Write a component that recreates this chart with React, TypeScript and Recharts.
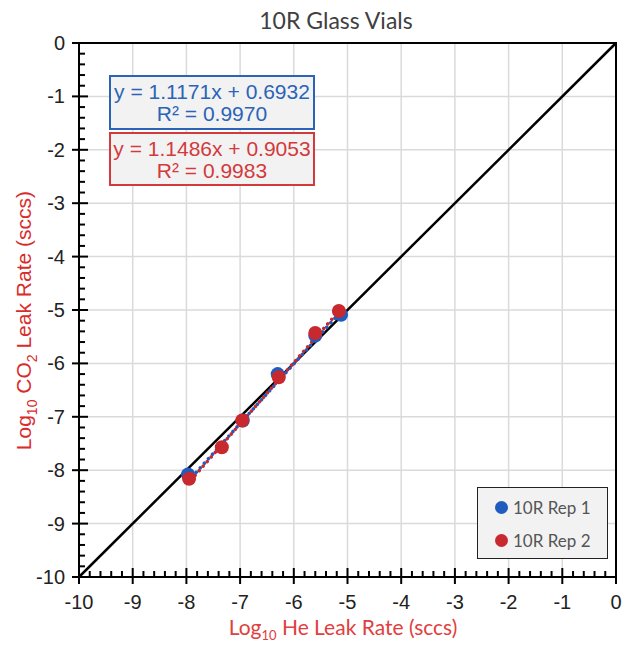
import React from 'react';
import {
  ScatterChart, Scatter, XAxis, YAxis, CartesianGrid, ReferenceLine, ReferenceArea,
} from 'recharts';

document.body.style.margin = '0';

// data (log10 He leak rate vs log10 CO2 leak rate)
const rep1 = [
  { x: -7.97, y: -8.08 },
  { x: -6.95, y: -7.07 },
  { x: -6.3, y: -6.2 },
  { x: -5.6, y: -5.48 },
  { x: -5.12, y: -5.09 },
];
const rep2 = [
  { x: -7.95, y: -8.16 },
  { x: -7.34, y: -7.57 },
  { x: -6.96, y: -7.07 },
  { x: -6.28, y: -6.26 },
  { x: -5.6, y: -5.43 },
  { x: -5.16, y: -5.02 },
];

const fit1 = { slope: 1.1171, intercept: 0.6932, r2: '0.9970', from: -7.97, to: -5.12 };
const fit2 = { slope: 1.1486, intercept: 0.9053, r2: '0.9983', from: -7.95, to: -5.16 };

const seriesNames = ['10R Rep 1', '10R Rep 2'];

const majorTicks = [-10, -9, -8, -7, -6, -5, -4, -3, -2, -1, 0];
// minor ticks every 0.2 between the labelled ones
const allTicks: number[] = [];
majorTicks.slice(0, -1).forEach(t => {
  for (let i = 0; i < 5; i++) allTicks.push(Math.round((t + i * 0.2) * 10) / 10);
});
allTicks.push(0);

const BLUE = '#1f5cbf';
const RED = '#c8292f';
const TICK_FONT = '"Liberation Sans", Arial, sans-serif';

const isMajor = (v: number) => Math.abs(v - Math.round(v)) < 1e-6;

const XTick = (props: any) => {
  const { x, y, payload } = props;
  const major = isMajor(payload.value);
  return (
    <g>
      <line x1={x} x2={x} y1={y - (major ? 9 : 6)} y2={y + (major ? 7 : 0)} stroke="#000" strokeWidth={2} />
      {major && (
        <text x={x} y={y + 32} textAnchor="middle" fontSize={20} fontFamily={TICK_FONT} fill="#222">
          {payload.value}
        </text>
      )}
    </g>
  );
};

const YTick = (props: any) => {
  const { x, y, payload } = props;
  const major = isMajor(payload.value);
  return (
    <g>
      <line x1={x - (major ? 7 : 0)} x2={x + (major ? 9 : 6)} y1={y} y2={y} stroke="#000" strokeWidth={2} />
      {major && (
        <text x={x - 14} y={y + 7} textAnchor="end" fontSize={20} fontFamily={TICK_FONT} fill="#222">
          {payload.value}
        </text>
      )}
    </g>
  );
};

const Dot = (color: string) => (props: any) => (
  <circle cx={props.cx} cy={props.cy} r={7} fill={color} />
);

const LegendBox = () => (
  <div style={{
    position: 'absolute', left: 477, top: 487,
    border: '1.5px solid #222', background: '#f2f2f2', width: 131, height: 72,
    boxSizing: 'border-box', padding: '3px 0 0 17px',
    fontFamily: 'Lato, sans-serif', fontSize: 17, color: '#555',
  }}>
    {[BLUE, RED].map((c, i) => (
      <div key={i} style={{ display: 'flex', alignItems: 'center', height: 33 }}>
        <span style={{ width: 13, height: 13, borderRadius: 7, background: c, marginRight: 5 }} />
        {seriesNames[i]}
      </div>
    ))}
  </div>
);

const EqBox = ({ fit, color, top, height }: any) => (
  <div style={{
    position: 'absolute', left: 109, top, width: 206, height, boxSizing: 'border-box',
    border: `2px solid ${color}`, background: '#f2f2f2', color,
    fontFamily: TICK_FONT, fontSize: 21, lineHeight: '22px', textAlign: 'center', paddingTop: 4,
  }}>
    <div>{`y = ${fit.slope.toFixed(4)}x + ${fit.intercept.toFixed(4)}`}</div>
    <div>{`R² = ${fit.r2}`}</div>
  </div>
);

const trend = (f: any) => [
  { x: f.from, y: f.slope * f.from + f.intercept },
  { x: f.to, y: f.slope * f.to + f.intercept },
];

export default function App() {
  return (
    <div style={{ position: 'relative', width: 630, height: 646, background: '#fff' }}>
      <ScatterChart width={630} height={646} margin={{ top: 43, right: 14, bottom: 29, left: 0 }}>
        <CartesianGrid verticalValues={majorTicks} horizontalValues={majorTicks} stroke="#dadada" strokeWidth={1.5} />
        <XAxis
          type="number" dataKey="x" domain={[-10, 0]} ticks={allTicks} interval={0} height={40}
          tickSize={0} tickMargin={0} tickLine={false} tick={<XTick />}
          axisLine={{ stroke: '#000', strokeWidth: 2 }} allowDataOverflow
        />
        <YAxis
          type="number" dataKey="y" domain={[-10, 0]} ticks={allTicks} interval={0} width={79}
          tickSize={0} tickMargin={0} tickLine={false} tick={<YTick />}
          axisLine={{ stroke: '#000', strokeWidth: 2 }} allowDataOverflow
        />
        <ReferenceArea x1={-10} x2={0} y1={-10} y2={0} fill="none" stroke="#000" strokeWidth={2} />
        <ReferenceLine segment={[{ x: -10, y: -10 }, { x: 0, y: 0 }]} stroke="#000" strokeWidth={2.5} />
        <ReferenceLine segment={trend(fit1)} stroke={BLUE} strokeWidth={3.5} strokeDasharray="0.1 6" strokeLinecap="round" />
        <ReferenceLine segment={trend(fit2)} stroke={RED} strokeWidth={3.5} strokeDasharray="0.1 6" strokeDashoffset={3} strokeLinecap="round" />
        <Scatter name={seriesNames[0]} data={rep1} fill={BLUE} shape={Dot(BLUE)} isAnimationActive={false} />
        <Scatter name={seriesNames[1]} data={rep2} fill={RED} shape={Dot(RED)} isAnimationActive={false} />
      </ScatterChart>

      <div style={{
        position: 'absolute', left: 0, top: 6, width: 672, textAlign: 'center',
        fontFamily: 'Lato, sans-serif', fontSize: 23, color: '#404040',
      }}>10R Glass Vials</div>

      <EqBox fit={fit1} color="#2a63b8" top={75} height={55} />
      <EqBox fit={fit2} color="#d23a3c" top={132} height={54} />
      <LegendBox />

      <div style={{
        position: 'absolute', left: 0, top: 614, width: 686, textAlign: 'center',
        fontFamily: 'Lato, sans-serif', fontSize: 21, color: '#e0403e',
      }}>Log<sub style={{ fontSize: 13 }}>10</sub> He Leak Rate (sccs)</div>

      <div style={{
        position: 'absolute', left: 28 - 200, top: 317 - 14, width: 400, textAlign: 'center',
        transform: 'rotate(-90deg)', fontFamily: TICK_FONT, fontSize: 21, color: '#d92b2b',
        whiteSpace: 'nowrap', lineHeight: '28px',
      }}>Log<sub style={{ fontSize: 14 }}>10</sub> CO<sub style={{ fontSize: 14 }}>2</sub> Leak Rate (sccs)</div>
    </div>
  );
}
